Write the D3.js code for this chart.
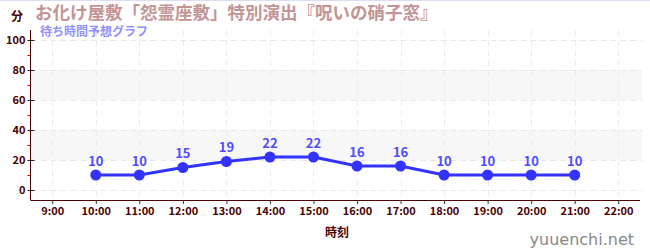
<!DOCTYPE html>
<html>
<head>
<meta charset="utf-8">
<script src="https://cdn.jsdelivr.net/npm/d3@7"></script>
<style>
body { margin: 0; background: #fff; }
svg { display: block; font-family: "Noto Sans CJK JP", "Noto Sans", sans-serif; }
</style>
</head>
<body>
<svg id="chart" width="650" height="250"></svg>
<script>
var hours = [10, 11, 12, 13, 14, 15, 16, 17, 18, 19, 20, 21];
var waits = [10, 10, 15, 19, 22, 22, 16, 16, 10, 10, 10, 10];
var xTicks = [9, 10, 11, 12, 13, 14, 15, 16, 17, 18, 19, 20, 21, 22];
var yTicks = [0, 20, 40, 60, 80, 100];
var yMinor = [10, 30, 50, 70, 90];
var bands = [[20, 40], [60, 80]];

var title = "お化け屋敷「怨霊座敷」特別演出『呪いの硝子窓』";
var subtitle = "待ち時間予想グラフ";

var svg = d3.select("#chart");
var plotLeft = 30.5, plotRight = 640, plotTop = 30, plotBottom = 200;

var x = d3.scaleLinear().domain([8.5, 22.5]).range([plotLeft, plotRight]);
var y = d3.scaleLinear().domain([-6.67, 106.67]).range([plotBottom, plotTop]);

var axisColor = "#4a0000";

// top border
svg.append("line")
    .attr("x1", 0).attr("x2", 650).attr("y1", 0.5).attr("y2", 0.5)
    .attr("stroke", "#dcdcf5");

// bands
svg.selectAll("rect.band")
    .data(bands)
    .enter()
    .append("rect")
    .attr("class", "band")
    .attr("x", plotLeft)
    .attr("width", plotRight + 2 - plotLeft)
    .attr("y", function(d) { return y(d[1]); })
    .attr("height", function(d) { return y(d[0]) - y(d[1]); })
    .attr("fill", "#f7f7f7");

// grid
svg.selectAll("line.vgrid")
    .data(xTicks)
    .enter()
    .append("line")
    .attr("x1", function(d) { return Math.round(x(d)) + 0.5; })
    .attr("x2", function(d) { return Math.round(x(d)) + 0.5; })
    .attr("y1", plotTop).attr("y2", plotBottom)
    .attr("stroke", "#ececec")
    .attr("stroke-dasharray", "6,4");

svg.selectAll("line.hgrid")
    .data(yTicks)
    .enter()
    .append("line")
    .attr("x1", plotLeft).attr("x2", plotRight + 2)
    .attr("y1", function(d) { return Math.round(y(d)) + 0.5; })
    .attr("y2", function(d) { return Math.round(y(d)) + 0.5; })
    .attr("stroke", "#e8e8e8")
    .attr("stroke-dasharray", "6,4");

// y axis
var yAxis = d3.axisLeft(y).tickValues(yTicks).tickSize(4).tickPadding(4);
var gy = svg.append("g")
    .attr("transform", "translate(" + plotLeft + ",0)")
    .call(yAxis);
gy.select(".domain").attr("stroke", axisColor).attr("d", "M0," + plotTop + "V" + plotBottom);
gy.selectAll(".tick line").attr("x1", 4).attr("x2", -3).attr("stroke", "#222");
gy.selectAll(".tick text")
    .attr("x", -5)
    .attr("fill", axisColor)
    .style("font-size", "11px")
    .style("font-weight", "bold")
    .style("font-family", "'Noto Sans CJK JP', sans-serif");

svg.selectAll("line.minor")
    .data(yMinor)
    .enter()
    .append("line")
    .attr("x1", plotLeft - 3).attr("x2", plotLeft)
    .attr("y1", function(d) { return Math.round(y(d)) + 0.5; })
    .attr("y2", function(d) { return Math.round(y(d)) + 0.5; })
    .attr("stroke", "#cc0000");

// x axis
var xAxis = d3.axisBottom(x).tickValues(xTicks).tickSize(4).tickPadding(3)
    .tickFormat(function(d) { return d + ":00"; });
var gx = svg.append("g")
    .attr("transform", "translate(0," + plotBottom + ")")
    .call(xAxis);
gx.select(".domain").attr("stroke", axisColor).attr("d", "M" + plotLeft + ",0.5H" + plotRight);
gx.selectAll(".tick line").attr("stroke", "#333");
gx.selectAll(".tick text")
    .attr("fill", axisColor)
    .style("font-size", "11px")
    .style("font-weight", "bold")
    .style("font-family", "'Noto Sans CJK JP', sans-serif");

// line
var pts = hours.map(function(h, i) { return [h, waits[i]]; });
var line = d3.line()
    .x(function(d) { return x(d[0]); })
    .y(function(d) { return y(d[1]); });

svg.append("path")
    .datum(pts)
    .attr("d", line)
    .attr("fill", "none")
    .attr("stroke", "#3333ff")
    .attr("stroke-width", 3);

svg.selectAll("circle.pt")
    .data(pts)
    .enter()
    .append("circle")
    .attr("cx", function(d) { return x(d[0]); })
    .attr("cy", function(d) { return y(d[1]); })
    .attr("r", 5.5)
    .attr("fill", "#3333ff");

svg.selectAll("text.lbl")
    .data(pts)
    .enter()
    .append("text")
    .attr("x", function(d) { return x(d[0]); })
    .attr("y", function(d) { return y(d[1]) - 9; })
    .attr("text-anchor", "middle")
    .attr("fill", "#4d4dff")
    .style("font-size", "13px")
    .style("font-weight", "bold")
    .text(function(d) { return d[1]; });

// texts
svg.append("text")
    .attr("x", 35).attr("y", 19)
    .attr("fill", "#c49494")
    .style("font-size", "17.5px")
    .style("font-weight", "bold")
    .text(title);

svg.append("text")
    .attr("x", 40).attr("y", 36)
    .attr("fill", "#9090ff")
    .style("font-size", "12px")
    .style("font-weight", "bold")
    .text(subtitle);

svg.append("text")
    .attr("x", 11).attr("y", 21)
    .attr("fill", axisColor)
    .style("font-size", "12px")
    .style("font-weight", "bold")
    .text("分");

svg.append("text")
    .attr("x", 337).attr("y", 237)
    .attr("text-anchor", "middle")
    .attr("fill", axisColor)
    .style("font-size", "12px")
    .style("font-weight", "bold")
    .text("時刻");

svg.append("text")
    .attr("x", 634).attr("y", 245)
    .attr("text-anchor", "end")
    .attr("fill", "#888")
    .style("font-size", "16px")
    .style("font-family", "'DejaVu Sans', sans-serif")
    .text("yuuenchi.net");
</script>
</body>
</html>
